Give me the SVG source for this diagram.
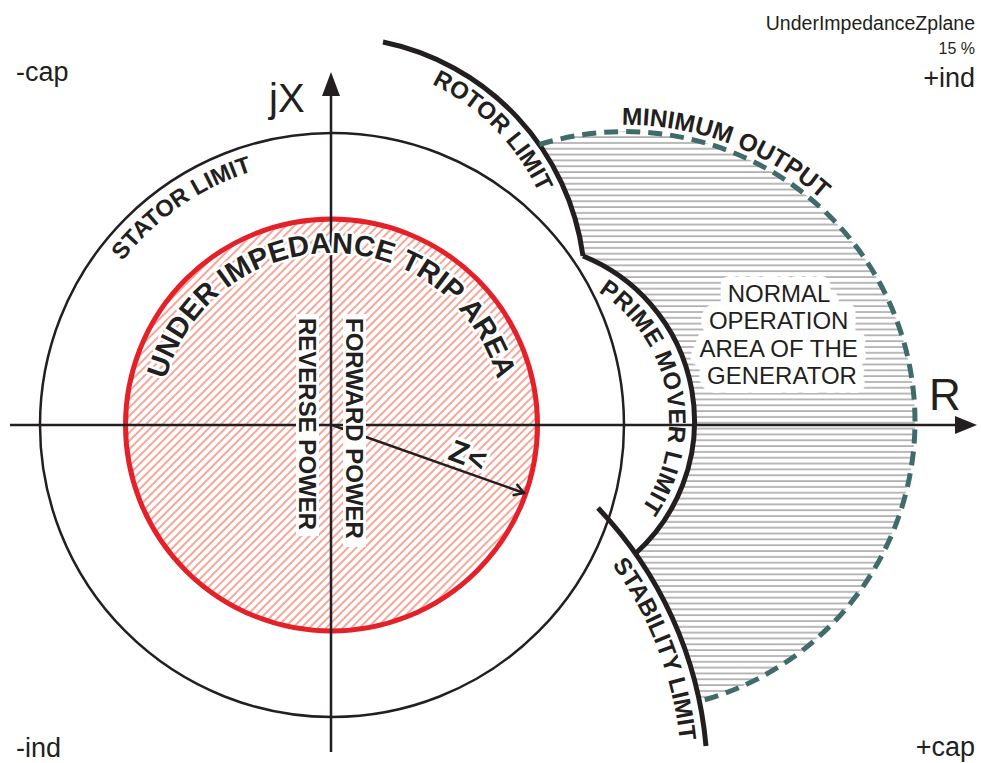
<svg xmlns="http://www.w3.org/2000/svg" width="981" height="763" viewBox="0 0 981 763">
<style>
.lbl{font-family:"Liberation Sans",Arial,sans-serif;font-weight:bold;fill:#231f20}
.reg{font-family:"Liberation Sans",Arial,sans-serif;fill:#231f20}
.thick{fill:none;stroke:#231f20;stroke-width:5}
.axis{fill:none;stroke:#231f20;stroke-width:2.5}
.halo{paint-order:stroke;stroke:#fff;stroke-linejoin:round}
</style>
<defs>
<pattern id="gray" patternUnits="userSpaceOnUse" width="20" height="5.83" y="1">
<line x1="0" y1="2" x2="20" y2="2" stroke="#8a8a8a" stroke-width="1.2"/>
</pattern>
<pattern id="redh" patternUnits="userSpaceOnUse" width="20" height="5.9" patternTransform="rotate(-45)">
<line x1="0" y1="2" x2="20" y2="2" stroke="#ee4f36" stroke-width="1"/>
</pattern>
<marker id="open" markerWidth="16" markerHeight="16" refX="12" refY="8" orient="auto" markerUnits="userSpaceOnUse">
<path d="M2,2 L12,8 L2,14" fill="none" stroke="#231f20" stroke-width="2.5"/>
</marker>
<path id="tpStator" d="M70.3,377.4 A266,266 0 0 1 379.6,163.3"/>
<path id="tpRotor" d="M334,61 A228,228 0 0 1 560,291"/>
<path id="tpMin" d="M501.8,151.7 A296,296 0 0 1 894.4,298.3"/>
<path id="tpUnder" d="M159.5,425 A172,172 0 0 1 503.5,425"/>
<path id="tpPrime" d="M601.1,293.9 A153,153 0 0 1 643.1,506.1"/>
<path id="tpStab" d="M462.5,443 A370,370 0 0 1 650,931.5"/>
</defs>

<g id="normal-area">
<path d="M539.5,144.5 A290,290 0 0 1 915,421 A290,290 0 0 1 698.5,701.5 A395,395 0 0 0 635.5,553.5 A178,178 0 0 0 583,256 A253,253 0 0 0 539.5,144.5 Z" fill="url(#gray)"/>
</g>

<g id="stator-limit">
<circle cx="332" cy="425" r="292" fill="none" stroke="#231f20" stroke-width="2.5"/>
</g>

<g id="trip-area">
<circle cx="331.5" cy="425" r="206" fill="#fff"/>
<circle cx="331.5" cy="425" r="206" fill="url(#redh)"/>
<circle cx="331.5" cy="425" r="206" fill="none" stroke="#e42129" stroke-width="5"/>
</g>

<g id="connectors">
<line class="axis" x1="10" y1="425" x2="958" y2="425"/>
<polygon points="977,425 955,416 955,434" fill="#231f20"/>
<line class="axis" x1="331" y1="752" x2="331" y2="92"/>
<polygon points="331,72 322,96 340,96" fill="#231f20"/>
<line class="axis" x1="332" y1="425" x2="524" y2="493" marker-end="url(#open)"/>
</g>

<g id="power-labels">
<rect x="343" y="314" width="23" height="233" fill="#fff"/>
<rect x="296" y="314" width="23" height="222" fill="#fff"/>
<text class="lbl" font-size="24" transform="translate(346,318) rotate(90)">FORWARD POWER</text>
<text class="lbl" font-size="24" transform="translate(299,318) rotate(90)">REVERSE POWER</text>
</g>

<g id="z-label">
<text class="lbl halo" font-size="31" stroke-width="7" text-anchor="middle" transform="translate(468,455) rotate(20)" y="11">Z&lt;</text>
</g>

<g id="rotor-limit">
<path class="thick" d="M383,42 A253,253 0 0 1 583,256"/>
<text class="lbl" font-size="24"><textPath href="#tpRotor" startOffset="50%" text-anchor="middle">ROTOR LIMIT</textPath></text>
</g>

<g id="prime-mover-limit">
<path class="thick" d="M583,256 A178,178 0 0 1 635.5,553.5"/>
<text class="lbl" font-size="24" letter-spacing="0.4"><textPath href="#tpPrime" startOffset="50%" text-anchor="middle">PRIME MOVER LIMIT</textPath></text>
</g>

<g id="stability-limit">
<path class="thick" d="M598,508 A395,395 0 0 1 706,746"/>
<text class="lbl" font-size="24"><textPath href="#tpStab" startOffset="50%" text-anchor="middle">STABILITY LIMIT</textPath></text>
</g>

<g id="minimum-output">
<path d="M539.5,144.5 A290,290 0 0 1 915,421 A290,290 0 0 1 698.5,701.5" fill="none" stroke="#3f6b6a" stroke-width="5" stroke-dasharray="14 8"/>
<text class="lbl" font-size="24.5"><textPath href="#tpMin" startOffset="50%" text-anchor="middle">MINIMUM OUTPUT</textPath></text>
</g>

<g id="stator-label">
<text class="lbl" font-size="23.5"><textPath href="#tpStator" startOffset="50%" text-anchor="middle">STATOR LIMIT</textPath></text>
</g>

<g id="trip-label">
<text class="lbl halo" font-size="29" stroke-width="5"><textPath href="#tpUnder" startOffset="50%" text-anchor="middle">UNDER IMPEDANCE TRIP AREA</textPath></text>
</g>

<g id="normal-label">
<text class="reg halo" font-size="24" stroke-width="18" text-anchor="middle">
<tspan x="782" y="302">NORMAL</tspan>
<tspan x="782" y="329">OPERATION</tspan>
<tspan x="782" y="356.5">AREA OF THE</tspan>
<tspan x="782" y="384">GENERATOR</tspan>
</text>
</g>

<g id="axis-labels">
<text class="reg" font-size="40" x="269" y="112">jX</text>
<text class="reg" font-size="44" x="929" y="410">R</text>
</g>

<g id="corner-labels">
<text class="reg" font-size="27" x="16" y="81">-cap</text>
<text class="reg" font-size="27" x="975" y="87" text-anchor="end">+ind</text>
<text class="reg" font-size="27" x="16" y="757">-ind</text>
<text class="reg" font-size="27" x="975" y="756" text-anchor="end">+cap</text>
<text class="reg" font-size="19.5" x="975" y="30" text-anchor="end">UnderImpedanceZplane</text>
<text class="reg" font-size="16" x="975" y="54" text-anchor="end">15 %</text>
</g>
</svg>
